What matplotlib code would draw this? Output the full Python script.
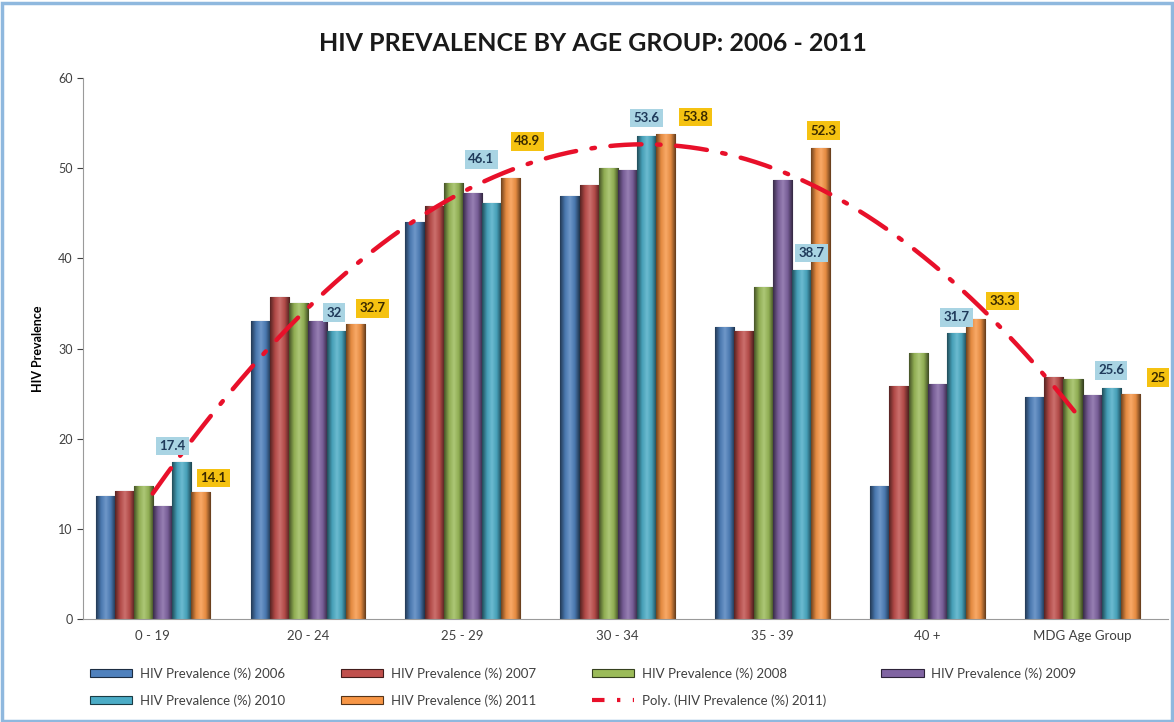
import numpy as np
import matplotlib
matplotlib.use("Agg")
import matplotlib.pyplot as plt
from matplotlib.colors import LinearSegmentedColormap, to_rgb
from matplotlib.lines import Line2D
from matplotlib.patches import Rectangle

plt.rcParams['font.family'] = ['Lato', 'DejaVu Sans']

groups = ['0 - 19', '20 - 24', '25 - 29', '30 - 34', '35 - 39', '40 +', 'MDG Age Group']
years = ['2006', '2007', '2008', '2009', '2010', '2011']
prev_2006 = [13.6, 33.1, 44.0, 46.9, 32.4, 14.7, 24.6]
prev_2007 = [14.2, 35.7, 45.8, 48.1, 32.0, 25.9, 26.8]
prev_2008 = [14.7, 35.1, 48.4, 50.0, 36.8, 29.5, 26.6]
prev_2009 = [12.5, 33.1, 47.3, 49.8, 48.7, 26.1, 24.8]
prev_2010 = [17.4, 32.0, 46.1, 53.6, 38.7, 31.7, 25.6]
prev_2011 = [14.1, 32.7, 48.9, 53.8, 52.3, 33.3, 25.0]
series = [prev_2006, prev_2007, prev_2008, prev_2009, prev_2010, prev_2011]
colors = ['#4F81BD', '#C0504D', '#9BBB59', '#8064A2', '#4BACC6', '#F79646']

# label offsets from bar top (pixels), as dragged in the original chart
off_2010 = [(-9, 16), (-2, 18), (-10, 44), (0, 18), (10, 17), (0, 16), (0, 18)]
off_2011 = [(13, 14), (17, 16), (17, 37), (30, 17), (3, 17), (27, 18), (28, 16)]


def shade(c, f):
    r, g, b = to_rgb(c)
    return (r * f, g * f, b * f)


def lighten(c, f):
    r, g, b = to_rgb(c)
    return (r + (1 - r) * f, g + (1 - g) * f, b + (1 - b) * f)


fig = plt.figure(figsize=(11.74, 7.22), dpi=100)
ax = fig.add_axes([0.0707, 0.1427, 0.924, 0.749])

x = np.arange(len(groups))
w = 0.123
grad = np.linspace(0, 1, 64).reshape(1, -1)

for i, (vals, col) in enumerate(zip(series, colors)):
    pos = x + (i - 2.5) * w
    bars = ax.bar(pos, vals, width=w, color=col, edgecolor=shade(col, 0.35),
                  linewidth=0.8, zorder=2, label=f'HIV Prevalence (%) {years[i]}')
    cmap = LinearSegmentedColormap.from_list(
        'cyl', [shade(col, 0.45), shade(col, 0.92), lighten(col, 0.18),
                shade(col, 0.92), shade(col, 0.4)])
    for b in bars:
        im = ax.imshow(grad, cmap=cmap, aspect='auto', zorder=2.5,
                       extent=[b.get_x(), b.get_x() + b.get_width(), 0, b.get_height()])
        im.set_clip_path(b)

# data labels for 2010 and 2011
for xi, v, off in zip(x + 1.5 * w, prev_2010, off_2010):
    ax.annotate(f'{v:g}', (xi, v), xytext=off, textcoords='offset pixels',
                ha='center', va='center', fontsize=9.5, fontweight='bold',
                color='#1f3a5a', zorder=5,
                bbox=dict(boxstyle='square,pad=0.25', fc='#a9d4e3', ec='none'))
for xi, v, off in zip(x + 2.5 * w, prev_2011, off_2011):
    ax.annotate(f'{v:g}', (xi, v), xytext=off, textcoords='offset pixels',
                ha='center', va='center', fontsize=9.5, fontweight='bold',
                color='#3a2a00', zorder=5,
                bbox=dict(boxstyle='square,pad=0.25', fc='#f5c211', ec='none'))

# polynomial trendline (order 2) of 2011 series
coef = np.polyfit(x + 1, prev_2011, 2)
xs = np.linspace(0, len(groups) - 1, 200)
ax.plot(xs, np.polyval(coef, xs + 1), color='#e8102a', lw=3.2,
        dashes=(7, 3.5, 0.8, 3.5), zorder=4, dash_capstyle='round')

ax.set_xlim(-0.45, len(groups) - 0.45)
ax.set_ylim(0, 60)
ax.set_yticks(range(0, 61, 10))
ax.set_xticks(x)
ax.set_xticklabels(groups)
ax.tick_params(axis='x', length=0, labelsize=9.5, colors='#404040', pad=8)
ax.tick_params(axis='y', length=4, labelsize=9, colors='#404040', direction='out')
for s in ['top', 'right']:
    ax.spines[s].set_visible(False)
ax.spines['left'].set_color('#9a9a9a')
ax.spines['bottom'].set_color('#9a9a9a')
ax.set_ylabel('HIV Prevalence', fontsize=9, fontweight='bold', labelpad=10)

fig.text(0.505, 0.94, 'HIV PREVALENCE BY AGE GROUP: 2006 - 2011', ha='center', va='center',
         fontsize=18, fontweight='bold', color='#1a1a1a')

handles, labels = ax.get_legend_handles_labels()
handles.append(Line2D([0], [0], color='#e8102a', lw=3, dashes=(3, 3, 0.8, 3)))
labels.append('Poly. (HIV Prevalence (%) 2011)')
order = [0, 4, 1, 5, 2, 6, 3]  # row-major fill like the original
leg = fig.legend([handles[k] for k in order], [labels[k] for k in order],
                 loc='upper left', bbox_to_anchor=(0.0767, 0.076), ncol=4,
                 frameon=False, fontsize=9.5, handlelength=3.2, handleheight=0.55,
                 handletextpad=0.6, columnspacing=4.2, labelspacing=1.1,
                 borderpad=0, borderaxespad=0, labelcolor='#404040')

fig.patches.append(Rectangle((0.002, 0.002), 0.996, 0.994, transform=fig.transFigure,
                             fill=False, ec='#8fb8de', lw=2.5))

fig.savefig('out.png', dpi=100, facecolor='white')
